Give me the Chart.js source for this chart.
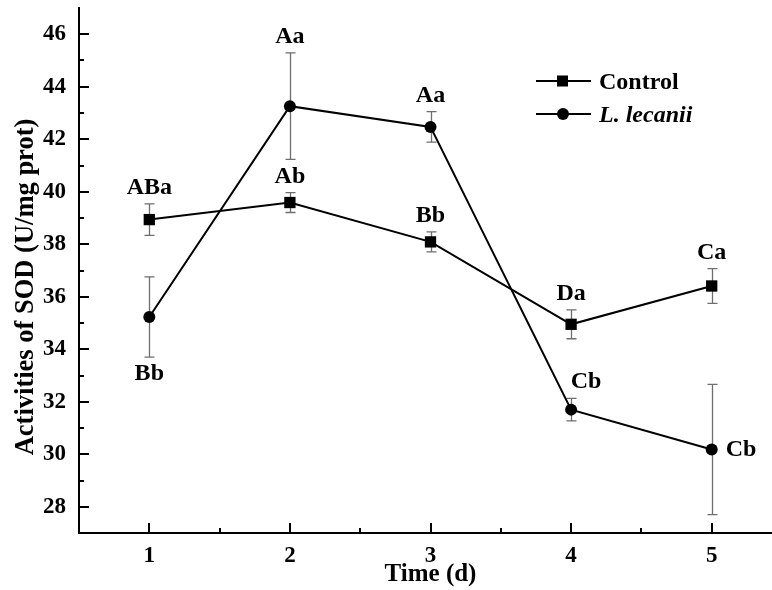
<!DOCTYPE html>
<html>
<head>
<meta charset="utf-8">
<script src="https://cdn.jsdelivr.net/npm/chart.js@4.4.1/dist/chart.umd.min.js"></script>
<style>
    html, body { margin: 0; padding: 0; background: #fff; overflow: hidden; }
</style>
</head>
<body>
<canvas id="chart" width="790" height="590"></canvas>
<script>
// Sampling days
const days = [1, 2, 3, 4, 5];
// SOD activity (U/mg prot), mean and SE
const controlMean = [38.94, 39.59, 38.09, 34.95, 36.41];
const controlErr = [0.60, 0.38, 0.38, 0.55, 0.66];
const controlLetters = ['ABa', 'Ab', 'Bb', 'Da', 'Ca'];
const lecaniiMean = [35.23, 43.26, 42.47, 31.70, 30.18];
const lecaniiErr = [1.53, 2.03, 0.58, 0.43, 2.48];
const lecaniiLetters = ['Bb', 'Aa', 'Aa', 'Cb', 'Cb'];
// Axis ticks
const yTicks = [28, 30, 32, 34, 36, 38, 40, 42, 44, 46];
const yMinor = [29, 31, 33, 35, 37, 39, 41, 43, 45];
const xMinor = [1.5, 2.5, 3.5, 4.5];

const SERIF = '"Liberation Serif", "Times New Roman", serif';

// where each significance letter sits relative to its point
// 'up' = above the error bar, 'down' = below it, 'right' = beside the point
const letterPlace = {
    Control: ['up', 'up', 'up', 'up', 'up'],
    lecanii: ['down', 'up', 'up', 'upright', 'right']
};

function pts(means) {
    return days.map(function (d, i) { return { x: d, y: means[i] }; });
}

/*
* Draws error bars, inward ticks, letters, titles and the legend
*/
const extras = {
    id: 'extras',
    beforeDatasetsDraw: function (chart) {
        const ctx = chart.ctx;
        const xs = chart.scales.x, ys = chart.scales.y;
        ctx.save();
        ctx.strokeStyle = '#6e6e6e';
        ctx.lineWidth = 1.3;
        chart.data.datasets.forEach(function (ds) {
            ds.data.forEach(function (p, i) {
                const px = Math.round(xs.getPixelForValue(p.x)) + 0.5;
                const top = ys.getPixelForValue(p.y + ds.err[i]);
                const bot = ys.getPixelForValue(p.y - ds.err[i]);
                ctx.beginPath();
                ctx.moveTo(px, top); ctx.lineTo(px, bot);
                ctx.moveTo(px - 5, top); ctx.lineTo(px + 5, top);
                ctx.moveTo(px - 5, bot); ctx.lineTo(px + 5, bot);
                ctx.stroke();
            });
        });
        ctx.restore();
    },
    afterDraw: function (chart) {
        const ctx = chart.ctx;
        const xs = chart.scales.x, ys = chart.scales.y;
        const area = chart.chartArea;
        ctx.save();

        // inward tick marks
        ctx.strokeStyle = '#000';
        ctx.lineWidth = 2;
        ctx.beginPath();
        days.forEach(function (v) {
            const px = Math.round(xs.getPixelForValue(v));
            ctx.moveTo(px, area.bottom); ctx.lineTo(px, area.bottom - 10);
        });
        xMinor.forEach(function (v) {
            const px = Math.round(xs.getPixelForValue(v));
            ctx.moveTo(px, area.bottom); ctx.lineTo(px, area.bottom - 5);
        });
        yTicks.forEach(function (v) {
            const py = Math.round(ys.getPixelForValue(v));
            ctx.moveTo(area.left, py); ctx.lineTo(area.left + 10, py);
        });
        yMinor.forEach(function (v) {
            const py = Math.round(ys.getPixelForValue(v));
            ctx.moveTo(area.left, py); ctx.lineTo(area.left + 5, py);
        });
        ctx.stroke();

        // significance letters
        ctx.fillStyle = '#000';
        ctx.font = 'bold 24px ' + SERIF;
        ctx.textAlign = 'center';
        ctx.textBaseline = 'middle';
        chart.data.datasets.forEach(function (ds) {
            const place = letterPlace[ds.key];
            ds.data.forEach(function (p, i) {
                const px = xs.getPixelForValue(p.x);
                const top = ys.getPixelForValue(p.y + ds.err[i]);
                const bot = ys.getPixelForValue(p.y - ds.err[i]);
                const mode = place[i];
                if (mode === 'up') {
                    ctx.fillText(ds.letters[i], px, top - 16);
                } else if (mode === 'upright') {
                    ctx.fillText(ds.letters[i], px + 15, top - 17);
                } else if (mode === 'down') {
                    ctx.fillText(ds.letters[i], px, bot + 17);
                } else {
                    ctx.textAlign = 'left';
                    ctx.fillText(ds.letters[i], px + 14, ys.getPixelForValue(p.y));
                    ctx.textAlign = 'center';
                }
            });
        });

        // axis titles
        ctx.font = 'bold 25px ' + SERIF;
        ctx.fillText('Time (d)', (area.left + area.right) / 2, 575);
        ctx.save();
        ctx.font = 'bold 26.5px ' + SERIF;
        ctx.translate(26, 287);
        ctx.rotate(-Math.PI / 2);
        ctx.fillText('Activities of SOD (U/mg prot)', 0, 0);
        ctx.restore();

        // legend
        const rows = [{ y: 81, ds: chart.data.datasets[0], font: 'bold 24px ' },
                      { y: 114, ds: chart.data.datasets[1], font: 'italic bold 24px ' }];
        rows.forEach(function (r) {
            ctx.strokeStyle = '#000';
            ctx.lineWidth = 2;
            ctx.beginPath();
            ctx.moveTo(536, r.y); ctx.lineTo(591, r.y);
            ctx.stroke();
            ctx.fillStyle = '#000';
            if (r.ds.pointStyle === 'rect') {
                ctx.fillRect(557, r.y - 5.5, 11, 11);
            } else {
                ctx.beginPath();
                ctx.arc(563, r.y, 6, 0, Math.PI * 2);
                ctx.fill();
            }
            ctx.font = r.font + SERIF;
            ctx.textAlign = 'left';
            ctx.textBaseline = 'alphabetic';
            ctx.fillText(r.ds.label, 599, r.y + 8);
        });
        ctx.restore();
    }
};

new Chart(document.getElementById('chart'), {
    type: 'line',
    data: {
        datasets: [{
            key: 'Control',
            label: 'Control',
            data: pts(controlMean),
            err: controlErr,
            letters: controlLetters,
            borderColor: '#000',
            borderWidth: 2,
            pointStyle: 'rect',
            pointRadius: 8,
            pointBackgroundColor: '#000',
            pointBorderWidth: 0,
            tension: 0
        }, {
            key: 'lecanii',
            label: 'L. lecanii',
            data: pts(lecaniiMean),
            err: lecaniiErr,
            letters: lecaniiLetters,
            borderColor: '#000',
            borderWidth: 2,
            pointStyle: 'circle',
            pointRadius: 6,
            pointBackgroundColor: '#000',
            pointBorderWidth: 0,
            tension: 0
        }]
    },
    options: {
        responsive: false,
        animation: false,
        events: [],
        layout: { padding: { left: 0, top: 8, right: 6, bottom: 0 } },
        plugins: { legend: { display: false }, tooltip: { enabled: false } },
        scales: {
            x: {
                type: 'linear',
                min: 0.5,
                max: 5.5,
                grid: { display: false, drawTicks: false },
                border: { display: true, color: '#000', width: 2 },
                afterBuildTicks: function (s) { s.ticks = days.map(function (v) { return { value: v }; }); },
                afterFit: function (s) { s.height = 57; s.paddingLeft = 0; s.paddingRight = 0; },
                ticks: {
                    padding: 9,
                    color: '#000',
                    font: { family: SERIF, size: 23, weight: 'bold' },
                    maxRotation: 0
                }
            },
            y: {
                min: 27,
                max: 47,
                grid: { display: false, drawTicks: false },
                border: { display: true, color: '#000', width: 2 },
                afterBuildTicks: function (s) { s.ticks = yTicks.map(function (v) { return { value: v }; }); },
                afterFit: function (s) { s.width = 79; s.paddingTop = 0; s.paddingBottom = 0; },
                ticks: {
                    padding: 13,
                    color: '#000',
                    font: { family: SERIF, size: 23, weight: 'bold' }
                }
            }
        }
    },
    plugins: [extras]
});
</script>
</body>
</html>
